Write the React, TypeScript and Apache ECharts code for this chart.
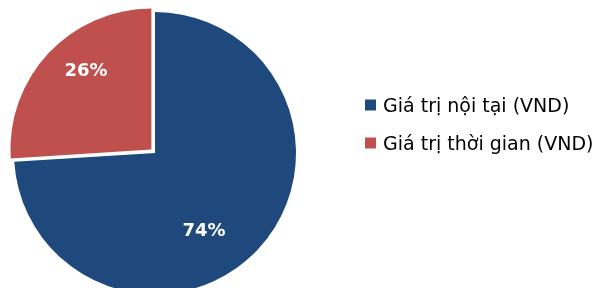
import React, { useEffect, useRef } from "react";
import * as echarts from "echarts";

const categories = ["Giá trị nội tại (VND)", "Giá trị thời gian (VND)"];
const values = [74, 26];
const colors = ["#1F497C", "#C0504D"];

export default function App() {
  const ref = useRef<HTMLDivElement>(null);
  useEffect(() => {
    document.body.style.margin = "0";
    const chart = echarts.init(ref.current!, null, { renderer: "svg" });
    const labelPos = [
      [204, 229],
      [86, 69],
    ];
    const centers = [
      [155, 153],
      [151.4, 149.6],
    ];
    const makeSeries = (k: number) => ({
      type: "pie",
      center: centers[k],
      radius: 141,
      startAngle: 90,
      clockwise: true,
      selectedMode: false,
      emphasis: { disabled: true },
      label: {
        show: true,
        position: "inside",
        formatter: "{c}%",
        color: "#fff",
        fontFamily: "DejaVu Sans",
        fontWeight: "bold",
        fontSize: 18,
      },
      labelLayout: (params: any) => ({
        x: labelPos[params.dataIndex][0],
        y: labelPos[params.dataIndex][1],
        align: "center",
        verticalAlign: "middle",
      }),
      data: categories.map((name, i) => ({
        name,
        value: values[i],
        itemStyle: { color: i === k ? colors[i] : "rgba(0,0,0,0)" },
        label: { show: i === k },
      })),
    });
    chart.setOption({
      animation: false,
      legend: {
        orient: "vertical",
        left: 360,
        top: 89,
        itemWidth: 11,
        itemHeight: 11,
        itemGap: 16,
        icon: "rect",
        selectedMode: false,
        data: categories.map((name, i) => ({
          name,
          itemStyle: { color: colors[i] },
        })),
        textStyle: {
          fontFamily: "DejaVu Sans",
          fontSize: 19,
          color: "#000",
          lineHeight: 22,
          padding: [0, 0, 0, 2],
        },
      },
      series: [makeSeries(0), makeSeries(1)],
    });
    return () => chart.dispose();
  }, []);
  return (
    <div
      ref={ref}
      style={{ position: "fixed", left: 0, top: 0, width: 597, height: 288 }}
    />
  );
}
